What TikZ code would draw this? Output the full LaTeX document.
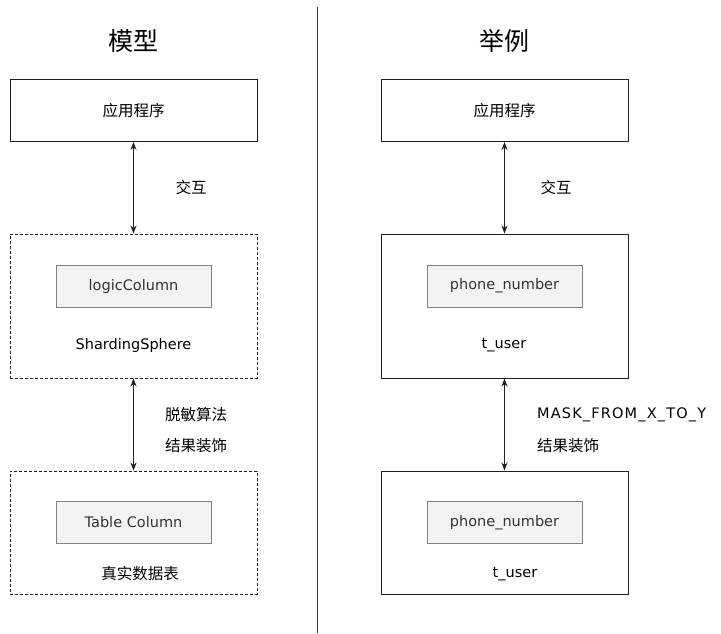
\documentclass[tikz,border=0pt]{standalone}
\usepackage{fontspec}
\setmainfont{DejaVu Sans}
\newfontfamily\cjk{Noto Sans CJK SC}
\usepackage{xcolor}
\usetikzlibrary{arrows.meta,positioning}
\definecolor{boxline}{RGB}{30,30,30}
\definecolor{cellfill}{RGB}{243,243,243}
\definecolor{cellline}{RGB}{130,130,130}

\begin{document}
\begin{tikzpicture}[x=1pt, y=-1pt, every node/.style={font=\fontsize{14.5}{16}\selectfont},
  zh/.style={font=\cjk\fontsize{15.5}{17}\selectfont},
  outerbox/.style={draw=boxline, line width=1pt, minimum width=247pt, inner sep=0pt},
  dashbox/.style={outerbox, line width=0.9pt, dash pattern=on 3pt off 2pt},
  cellbox/.style={draw=cellline, fill=cellfill, line width=0.9pt, minimum width=155pt, minimum height=42pt, text=black!80},
  link/.style={{Stealth[length=8pt,width=6pt]}-{Stealth[length=8pt,width=6pt]}, line width=1.1pt, boxline},
  title/.style={font=\cjk\fontsize{25}{28}\selectfont}]
  \useasboundingbox (0,0) rectangle (721,633);
  \draw[line width=1pt, black!75] (317,7) -- (317,633);
  % left column: model
  \node[title] (tmodel) at (133,41) {模型};
  \node[outerbox, zh, minimum height=62pt] (appL) at (133.5,110.5) {应用程序};
  \node[dashbox, minimum height=144pt] (shard) at (133.5,306) {};
  \node[cellbox] (logic) at (133.5,286) {logicColumn};
  \node (shardtxt) at (133.5,345) {ShardingSphere};
  \node[dashbox, minimum height=123pt] (real) at (133.5,532.5) {};
  \node[cellbox] (tcol) at (133.5,522.5) {Table Column};
  \node[zh] (realtxt) at (140,574) {真实数据表};
  \draw[link] (appL) -- (shard);
  \draw[link] (shard) -- (real);
  \node[zh] (actL) at (191,188) {交互};
  \node[zh] (algo) at (196,415) {脱敏算法};
  \node[zh] (decoL) at (196,446) {结果装饰};
  % right column: example
  \node[title] (texample) at (504,41) {举例};
  \node[outerbox, zh, minimum height=62pt] (appR) at (504.5,110.5) {应用程序};
  \node[outerbox, minimum height=144pt] (userA) at (504.5,306) {};
  \node[cellbox] (phoneA) at (504.5,286) {phone\_number};
  \node (userAtxt) at (504,345) {t\_user};
  \node[outerbox, minimum height=123pt] (userB) at (504.5,532.5) {};
  \node[cellbox] (phoneB) at (504.5,522.5) {phone\_number};
  \node (userBtxt) at (515,574) {t\_user};
  \draw[link] (appR) -- (userA);
  \draw[link] (userA) -- (userB);
  \node[zh] (actR) at (556,188) {交互};
  \node[anchor=west, inner sep=0pt] (mask) at (537,415) {\addfontfeature{LetterSpace=8}MASK\_FROM\_X\_TO\_Y};
  \node[zh, anchor=west, inner sep=0pt] (decoR) at (537,446) {结果装饰};
\end{tikzpicture}
\end{document}
